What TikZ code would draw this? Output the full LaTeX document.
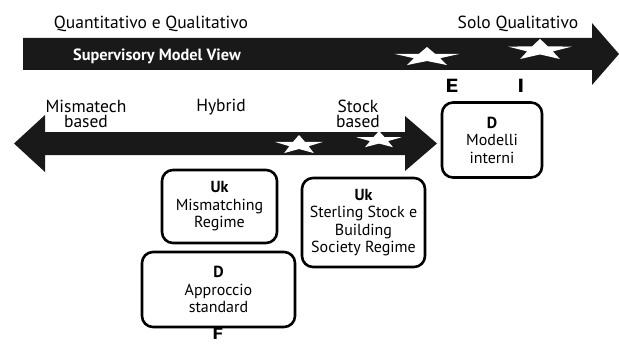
\documentclass[tikz,border=0pt]{standalone}
\usepackage{fontspec}
\setmainfont{PT Sans}
\usetikzlibrary{shapes.geometric}
\tikzset{%
  myarrow/.style={fill=black!90, draw=none},
  mybox/.style={draw=black, line width=2.6pt, rounded corners=11pt, align=center, inner sep=0pt,
    font=\fontsize{16}{17.5}\selectfont},
  mystar/.style={star, star points=5, star point ratio=2.5, fill=white, draw=none, inner sep=0pt, minimum size=20pt},
  mytext/.style={font=\fontsize{17.5}{15.5}\selectfont, align=center, inner sep=0pt},
  myletter/.style={font=\fontsize{19}{19}\selectfont\bfseries, inner sep=0pt, xscale=1.3}
}

\begin{document}
\begin{tikzpicture}[x=1pt, y=-1pt]
\useasboundingbox (0,0) rectangle (619,345);

% arrows
\fill [myarrow] (23,38) -- (592,38) -- (592,23) -- (619,54) -- (592,85) -- (592,70) -- (23,70) -- cycle;
\fill [myarrow] (14,143.5) -- (45,115) -- (45,132) -- (405,132) -- (405,116) -- (437,143.5)
  -- (405,171) -- (405,155) -- (45,155) -- (45,172) -- cycle;

\foreach \x / \y / \w / \h in {427/57/65/18, 540/50/64/20, 299/145/48/18, 379/140/45/16}{
  \node [mystar, xscale={\w/19}, yscale={\h/18}] at (\x,\y) {};
}

\node [mytext] (quanti) at (151,24) {Quantitativo e Qualitativo};
\node [mytext] (solo) at (518,24) {Solo Qualitativo};
\node [font=\fontsize{16.3}{16}\selectfont\bfseries, text=white, inner sep=0pt] (smv) at (157,56) {Supervisory Model View};
\node [myletter] (E) at (452,86) {E};
\node [myletter] (I) at (521,86) {I};

\node [mytext] (mis) at (86,114) {Mismatech\\based};
\node [mytext] (hyb) at (221,107) {Hybrid};
\node [mytext] (stock) at (358,114) {Stock\\based};

% boxes
\node [mybox, minimum width=100pt, minimum height=75pt] (D1) at (492,140) {\textbf{D}\\Modelli\\interni};
\node [mybox, minimum width=115pt, minimum height=73pt] (UK1) at (219.5,206.5) {\textbf{Uk}\\Mismatching\\Regime};
\node [mybox, minimum width=123pt, minimum height=89pt] (UK2) at (363.5,222.5) {\textbf{Uk}\\Sterling Stock e\\Building\\Society Regime};
\node [mybox, minimum width=153pt, minimum height=75pt] (D2) at (218.5,289.5) {\textbf{D}\\Approccio\\standard};
\node [myletter, font=\fontsize{16}{16}\selectfont\bfseries] (F) at (218,334) {F};

\end{tikzpicture}
\end{document}
